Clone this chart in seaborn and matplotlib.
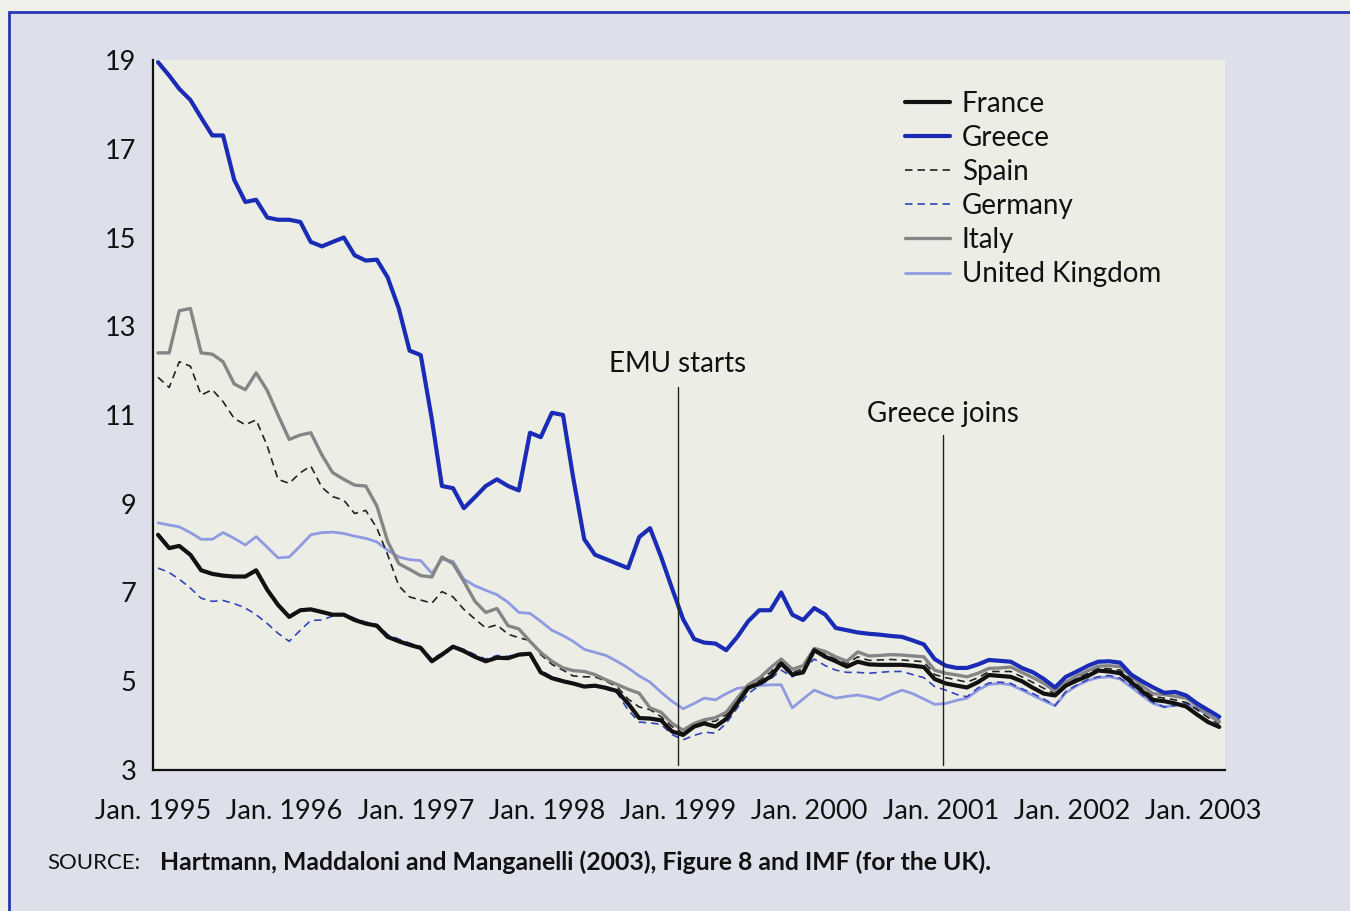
import pandas as pd
import numpy as np
import matplotlib
matplotlib.use('Agg')
import matplotlib.pyplot as plt
import matplotlib.patches as mpatches
import seaborn as sns

# monthly 3-month interbank rates, Jan 1995 - Feb 2003
months = pd.date_range('1995-01-01', periods=98, freq='MS') + pd.Timedelta(days=14)

france = [
    8.30, 8.00, 8.05, 7.85, 7.50, 7.42, 7.38, 7.36, 7.36, 7.50, 7.06, 6.72,
    6.45, 6.60, 6.62, 6.56, 6.50, 6.50, 6.38, 6.30, 6.25, 6.00, 5.90, 5.82,
    5.75, 5.45, 5.60, 5.78, 5.68, 5.55, 5.45, 5.53, 5.52, 5.60, 5.62, 5.20,
    5.07, 5.00, 4.95, 4.88, 4.90, 4.85, 4.78, 4.50, 4.17, 4.16, 4.12, 3.87,
    3.79, 3.98, 4.05, 3.98, 4.15, 4.50, 4.85, 4.95, 5.10, 5.40, 5.15, 5.20,
    5.70, 5.55, 5.45, 5.33, 5.44, 5.38, 5.37, 5.37, 5.37, 5.35, 5.32, 5.05,
    4.95, 4.90, 4.86, 4.98, 5.14, 5.12, 5.10, 5.00, 4.85, 4.72, 4.68, 4.90,
    5.02, 5.12, 5.24, 5.22, 5.18, 4.98, 4.78, 4.58, 4.55, 4.50, 4.43, 4.25,
    4.08, 3.97,
]
greece = [
    18.95, 18.65, 18.35, 18.10, 17.70, 17.30, 17.30, 16.30, 15.80, 15.85, 15.45, 15.40,
    15.40, 15.35, 14.90, 14.80, 14.90, 15.00, 14.60, 14.48, 14.50, 14.10, 13.40, 12.45,
    12.35, 10.90, 9.40, 9.35, 8.90, 9.15, 9.40, 9.55, 9.40, 9.30, 10.60, 10.50,
    11.05, 11.00, 9.60, 8.20, 7.85, 7.75, 7.65, 7.55, 8.25, 8.45, 7.80, 7.10,
    6.40, 5.95, 5.87, 5.85, 5.70, 6.00, 6.35, 6.60, 6.60, 7.00, 6.50, 6.38,
    6.65, 6.50, 6.20, 6.15, 6.10, 6.07, 6.05, 6.02, 6.00, 5.92, 5.83, 5.50,
    5.35, 5.30, 5.30, 5.38, 5.48, 5.46, 5.44, 5.30, 5.20, 5.05, 4.86, 5.10,
    5.22, 5.35, 5.44, 5.45, 5.42, 5.15, 5.00, 4.86, 4.74, 4.76, 4.68, 4.50,
    4.35, 4.20,
]
spain = [
    11.85, 11.62, 12.20, 12.10, 11.45, 11.57, 11.30, 10.92, 10.78, 10.89, 10.30, 9.55,
    9.46, 9.70, 9.85, 9.37, 9.16, 9.08, 8.78, 8.85, 8.45, 7.85, 7.15, 6.90,
    6.83, 6.76, 7.02, 6.90, 6.62, 6.40, 6.20, 6.27, 6.06, 5.98, 5.92, 5.60,
    5.38, 5.25, 5.12, 5.10, 5.10, 5.00, 4.88, 4.60, 4.42, 4.36, 4.20, 3.98,
    3.83, 3.98, 4.08, 4.10, 4.25, 4.58, 4.88, 5.02, 5.20, 5.47, 5.20, 5.28,
    5.72, 5.60, 5.50, 5.40, 5.55, 5.47, 5.48, 5.49, 5.48, 5.46, 5.44, 5.15,
    5.08, 5.03, 4.98, 5.08, 5.22, 5.22, 5.22, 5.10, 4.97, 4.84, 4.72, 4.94,
    5.08, 5.18, 5.30, 5.28, 5.25, 5.05, 4.84, 4.66, 4.62, 4.58, 4.52, 4.36,
    4.18, 4.03,
]
germany = [
    7.55, 7.45, 7.30, 7.10, 6.87, 6.80, 6.82, 6.75, 6.65, 6.50, 6.30, 6.08,
    5.90, 6.15, 6.37, 6.38, 6.47, 6.52, 6.42, 6.33, 6.28, 6.05, 5.95, 5.86,
    5.78, 5.50, 5.63, 5.80, 5.72, 5.60, 5.50, 5.58, 5.56, 5.62, 5.64, 5.25,
    5.10, 5.02, 4.95, 4.88, 4.88, 4.82, 4.74, 4.35, 4.08, 4.06, 4.03, 3.80,
    3.68, 3.78, 3.85, 3.83, 4.05, 4.40, 4.72, 4.90, 5.05, 5.25, 5.10, 5.25,
    5.50, 5.35, 5.25, 5.20, 5.20, 5.18, 5.20, 5.22, 5.22, 5.15, 5.08, 4.88,
    4.80, 4.70, 4.65, 4.85, 4.96, 4.98, 4.95, 4.83, 4.72, 4.60, 4.45, 4.77,
    4.92, 5.04, 5.10, 5.13, 5.07, 4.90, 4.70, 4.52, 4.42, 4.45, 4.52, 4.40,
    4.25, 4.13,
]
italy = [
    12.40, 12.40, 13.35, 13.40, 12.40, 12.37, 12.20, 11.70, 11.57, 11.95, 11.55, 11.00,
    10.45, 10.55, 10.60, 10.10, 9.70, 9.55, 9.42, 9.40, 8.95, 8.15, 7.65, 7.52,
    7.38, 7.35, 7.80, 7.65, 7.25, 6.80, 6.55, 6.64, 6.25, 6.18, 5.90, 5.65,
    5.45, 5.30, 5.24, 5.22, 5.15, 5.03, 4.93, 4.82, 4.73, 4.40, 4.30, 4.05,
    3.90, 4.05, 4.13, 4.18, 4.30, 4.62, 4.92, 5.07, 5.30, 5.50, 5.27, 5.35,
    5.74, 5.67, 5.55, 5.45, 5.66, 5.57, 5.58, 5.60, 5.59, 5.57, 5.55, 5.25,
    5.18, 5.14, 5.10, 5.18, 5.29, 5.30, 5.32, 5.20, 5.08, 4.95, 4.78, 4.98,
    5.12, 5.24, 5.34, 5.35, 5.33, 5.12, 4.90, 4.72, 4.70, 4.66, 4.62, 4.45,
    4.25, 4.08,
]
uk = [
    8.57, 8.52, 8.48, 8.35, 8.20, 8.20, 8.35, 8.22, 8.07, 8.26, 8.02, 7.78,
    7.80, 8.05, 8.30, 8.35, 8.36, 8.33, 8.27, 8.22, 8.14, 7.95, 7.80, 7.74,
    7.72, 7.43, 7.75, 7.70, 7.30, 7.15, 7.05, 6.95, 6.78, 6.55, 6.53, 6.35,
    6.15, 6.03, 5.90, 5.72, 5.65, 5.58, 5.45, 5.30, 5.12, 4.98, 4.75, 4.55,
    4.38, 4.50, 4.62, 4.58, 4.72, 4.84, 4.87, 4.90, 4.92, 4.92, 4.40, 4.60,
    4.80, 4.70, 4.62, 4.66, 4.69, 4.64, 4.58, 4.70, 4.80, 4.72, 4.60, 4.48,
    4.50, 4.57, 4.62, 4.80, 4.93, 4.95, 4.92, 4.80, 4.68, 4.56, 4.45, 4.74,
    4.90, 5.02, 5.08, 5.10, 5.05, 4.87, 4.68, 4.50, 4.42, 4.46, 4.50, 4.38,
    4.25, 4.12,
]

tick_years = list(range(1995, 2004))
tick_labels = [f"Jan. {y}" for y in tick_years]
y_ticks = [3, 5, 7, 9, 11, 13, 15, 17, 19]

# one wide table, then long form for seaborn
rates = pd.DataFrame({
    'date': months,
    'France': france,
    'Greece': greece,
    'Spain': spain,
    'Germany': germany,
    'Italy': italy,
    'United Kingdom': uk,
})
rates_long = rates.melt(id_vars='date', var_name='country', value_name='rate')

styles = {
    'France':         dict(color='#111111', lw=3.0, ls='-'),
    'Greece':         dict(color='#1a2bb5', lw=3.0, ls='-'),
    'Spain':          dict(color='#222222', lw=1.2, ls=(0, (4.5, 3))),
    'Germany':        dict(color='#3344b8', lw=1.2, ls=(0, (4.5, 3))),
    'Italy':          dict(color='#858585', lw=2.4, ls='-'),
    'United Kingdom': dict(color='#8f9ae0', lw=2.0, ls='-'),
}
draw_order = ['United Kingdom', 'Germany', 'Spain', 'Italy', 'France', 'Greece']
legend_order = ['France', 'Greece', 'Spain', 'Germany', 'Italy', 'United Kingdom']

sns.set_style('white')
plt.rcParams['font.family'] = ['Lato', 'DejaVu Sans']

fig = plt.figure(figsize=(13.5, 9.11), dpi=100, facecolor='#eef0ea')

# scanned page panel with blue frame, kept behind the axes
panel = mpatches.Rectangle((9 / 1350, -0.05), 1.2, 1 - 12 / 911 + 0.05,
                           transform=fig.transFigure, facecolor='#dde0ea',
                           edgecolor='#2536b0', linewidth=2.0, zorder=-10)
fig.patches.append(panel)

ax = fig.add_axes([153 / 1350, 1 - 770 / 911, (1225 - 153) / 1350, (770 - 60) / 911])
ax.set_facecolor('#eceee6')

for country in draw_order:
    st = styles[country]
    sns.lineplot(data=rates_long[rates_long['country'] == country], x='date', y='rate',
                 ax=ax, color=st['color'], linewidth=st['lw'], linestyle=st['ls'],
                 label=country, legend=False)

ax.set_xlim(pd.Timestamp('1995-01-01'), pd.Timestamp('2003-03-03'))
ax.set_ylim(3, 19)
ax.set_xticks([pd.Timestamp(f'{y}-01-01') for y in tick_years])
ax.set_xticklabels(tick_labels)
ax.set_yticks(y_ticks)
ax.set_xlabel('')
ax.set_ylabel('')

for side in ['top', 'right']:
    ax.spines[side].set_visible(False)
for side in ['left', 'bottom']:
    ax.spines[side].set_color('#111111')
    ax.spines[side].set_linewidth(1.6)
ax.tick_params(axis='both', direction='out', length=7, width=1.4, color='#111111',
               labelsize=19.5, labelcolor='#111111')
ax.tick_params(axis='x', pad=14)
ax.tick_params(axis='y', pad=5)

# event markers
ax.axvline(pd.Timestamp('1999-01-01'), ymin=0.007, ymax=0.54, color='#222222', lw=1.0)
ax.axvline(pd.Timestamp('2001-01-08'), ymin=0.007, ymax=0.472, color='#222222', lw=1.0)
ax.text(pd.Timestamp('1999-01-01'), 11.85, 'EMU starts', ha='center', va='bottom',
        fontsize=20, color='#111111')
ax.text(pd.Timestamp('2001-01-08'), 10.72, 'Greece joins', ha='center', va='bottom',
        fontsize=20, color='#111111')

# legend in the book's order
handles, labels = ax.get_legend_handles_labels()
lookup = dict(zip(labels, handles))
leg = ax.legend([lookup[c] for c in legend_order], legend_order,
                loc='upper left', bbox_to_anchor=(905 / 1350, 1 - 91 / 911),
                bbox_transform=fig.transFigure, frameon=False, fontsize=20,
                handlelength=1.62, handletextpad=0.43, labelspacing=0.29,
                borderaxespad=0, borderpad=0)
for t in leg.get_texts():
    t.set_color('#111111')

fig.text(47 / 1350, 1 - 863 / 911, 'SOURCE:', fontsize=16, color='#111111', va='center')
fig.text(160 / 1350, 1 - 862 / 911,
         'Hartmann, Maddaloni and Manganelli (2003), Figure 8 and IMF (for the UK).',
         fontsize=17.8, fontweight='bold', color='#111111', va='center')

fig.savefig('out.png', dpi=100, facecolor=fig.get_facecolor())
